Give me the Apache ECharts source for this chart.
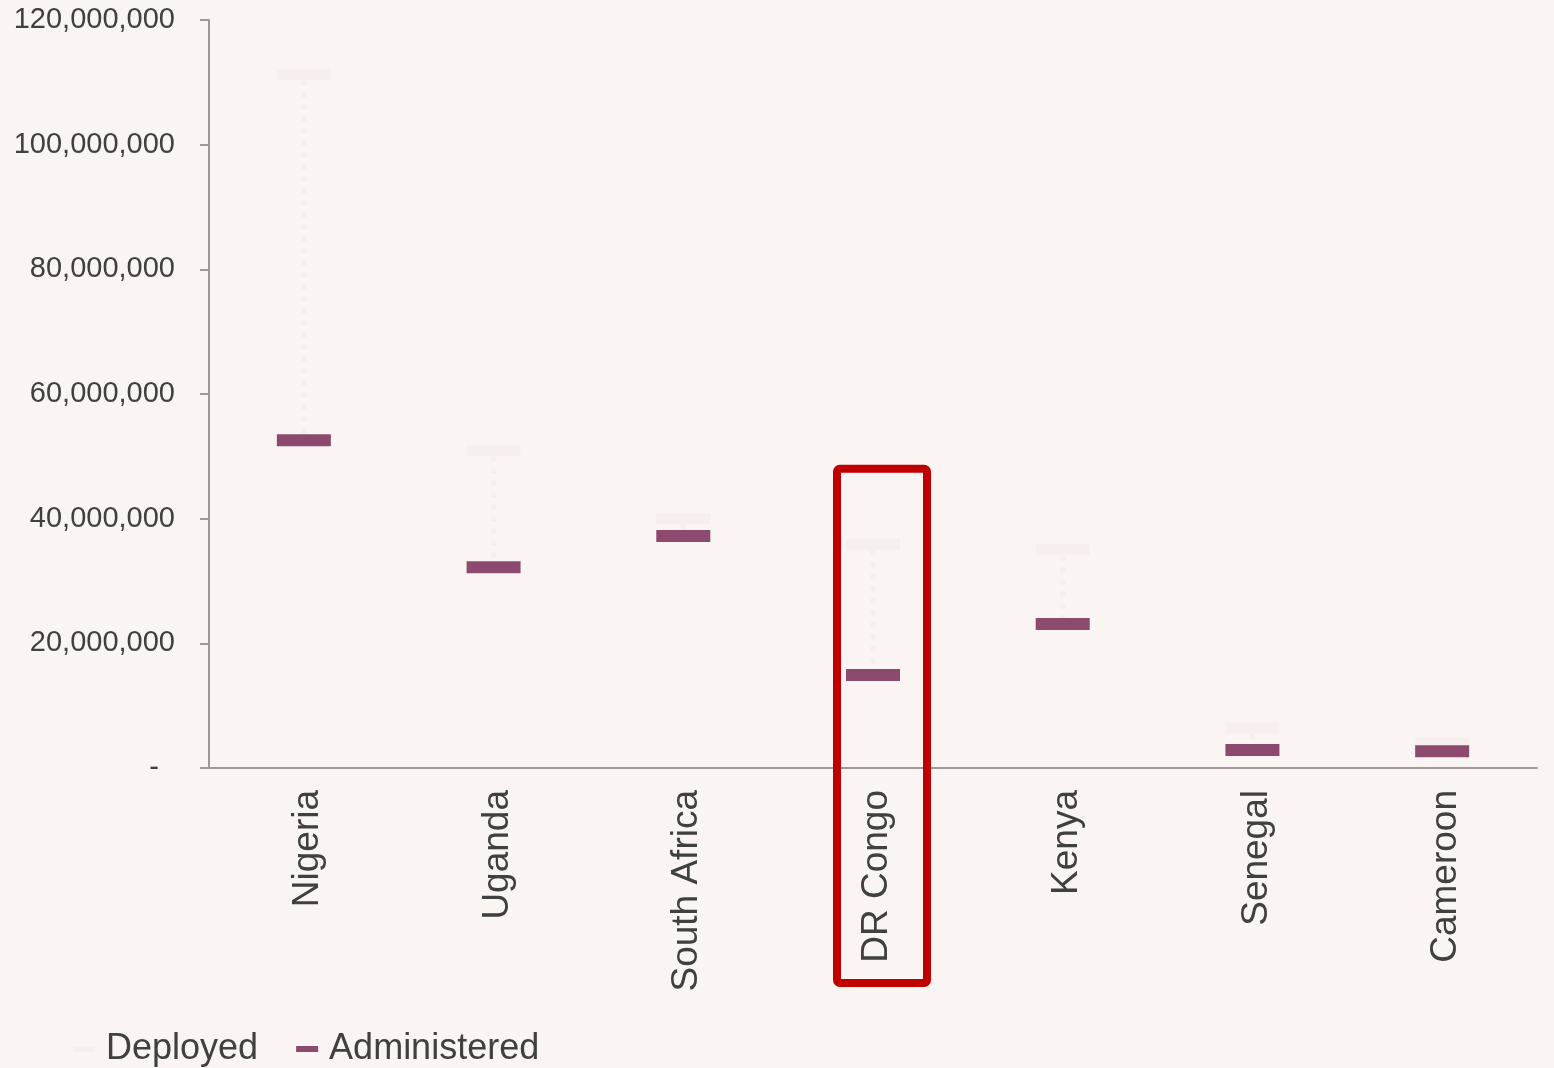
<!DOCTYPE html>
<html>
<head>
<meta charset="utf-8">
<script src="https://cdn.jsdelivr.net/npm/echarts@6/dist/echarts.min.js"></script>
<style>
  html, body { margin: 0; padding: 0; background: #FAF5F3; }
  #main { width: 1554px; height: 1068px; }
</style>
</head>
<body>
<div id="main"></div>
<script>
// values
const countries = ['Nigeria', 'Uganda', 'South Africa', 'DR Congo', 'Kenya', 'Senegal', 'Cameroon']
const deployed = [111200000, 50900000, 40000000, 35900000, 35000000, 6400000, 4000000]
const administered = [52600000, 32200000, 37200000, 14900000, 23100000, 2900000, 2700000]
const yTicks = [0, 20000000, 40000000, 60000000, 80000000, 100000000, 120000000]

const colors = { deployed: '#F6EFED', administered: '#8C4B6E', dots: '#F3EFEC', axis: '#9A9A9A', text: '#404040' }
const font = 'Liberation Sans, Arial, sans-serif'

const chart = echarts.init(document.getElementById('main'))

const option = {
  backgroundColor: '#FAF5F3',
  animation: false,
  grid: { left: 209, right: 17, top: 20, bottom: 300 },
  legend: {
    left: 68,
    top: 1026,
    icon: 'rect',
    itemWidth: 22,
    itemHeight: 6,
    itemGap: 38,
    data: ['Deployed', 'Administered'],
    textStyle: { fontFamily: font, fontSize: 36, color: colors.text, padding: [0, 0, 0, 6] }
  },
  xAxis: {
    type: 'category',
    data: countries,
    boundaryGap: true,
    axisLine: { lineStyle: { color: colors.axis, width: 2 } },
    axisTick: { length: 11, lineStyle: { color: colors.axis, width: 2 } },
    axisLabel: {
      rotate: 90,
      margin: 22,
      interval: 0,
      formatter: (v) => '{c|' + v + '}',
      rich: { c: { fontFamily: font, fontSize: 37, color: colors.text, padding: [8, 0, 0, 0] } }
    }
  },
  yAxis: {
    type: 'value',
    min: yTicks[0],
    max: yTicks[yTicks.length - 1],
    interval: 20000000,
    splitLine: { show: false },
    axisLine: { show: true, lineStyle: { color: colors.axis, width: 2 } },
    axisTick: { show: true, length: 9, lineStyle: { color: colors.axis, width: 2 } },
    axisLabel: {
      margin: 34,
      fontFamily: font,
      fontSize: 29,
      color: colors.text,
      formatter: (v) => v === 0 ? '{z|-}' : v.toLocaleString('en-US'),
      rich: { z: { fontFamily: font, fontSize: 29, color: colors.text, padding: [0, 16, 0, 0] } }
    }
  },
  series: [
    {
      // dotted connector between deployed and administered
      type: 'custom',
      name: 'connector',
      silent: true,
      data: countries.map((c, i) => [i, deployed[i], administered[i]]),
      renderItem: (params, api) => {
        const top = api.coord([api.value(0), api.value(1)])
        const bot = api.coord([api.value(0), api.value(2)])
        if (bot[1] - top[1] < 14) return null
        return {
          type: 'line',
          shape: { x1: top[0], y1: top[1] + 6, x2: bot[0], y2: bot[1] - 6 },
          style: { stroke: colors.dots, lineWidth: 5, lineDash: [5, 7] }
        }
      }
    },
    {
      type: 'scatter',
      name: 'Deployed',
      symbol: 'rect',
      symbolSize: [54, 11],
      itemStyle: { color: colors.deployed, opacity: 1 },
      data: deployed
    },
    {
      type: 'scatter',
      name: 'Administered',
      symbol: 'rect',
      symbolSize: [54, 12],
      itemStyle: { color: colors.administered, opacity: 1 },
      data: administered
    }
  ]
}

chart.setOption(option)

// red highlight box around DR Congo
const cx = chart.convertToPixel({ xAxisIndex: 0 }, 'DR Congo') + 9
const boxTop = chart.convertToPixel({ yAxisIndex: 0 }, 48000000)
chart.setOption({
  graphic: [{
    type: 'rect',
    shape: { x: cx - 45, y: boxTop, width: 90, height: 983 - boxTop, r: 3 },
    style: { fill: 'none', stroke: '#C00000', lineWidth: 8 },
    z: 100
  }]
})
</script>
</body>
</html>
